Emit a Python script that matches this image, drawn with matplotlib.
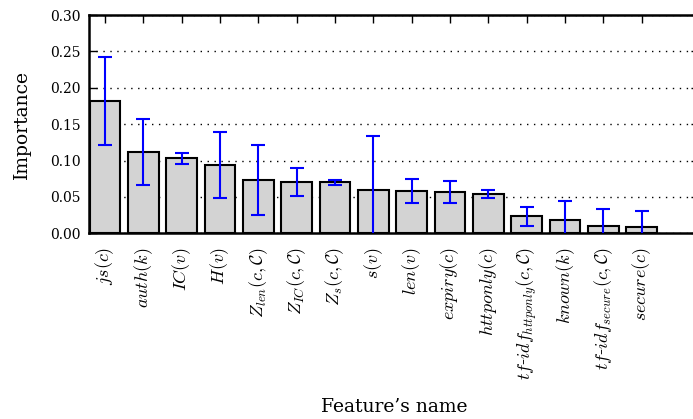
import matplotlib
matplotlib.use("Agg")
import matplotlib.pyplot as plt
import numpy as np

plt.rcParams["font.family"] = "serif"
plt.rcParams["font.serif"] = ["DejaVu Serif"]
plt.rcParams["mathtext.fontset"] = "cm"
plt.rcParams["axes.unicode_minus"] = False

features = [
    r"$js(c)$", r"$auth(k)$", r"$IC(v)$", r"$H(v)$",
    r"$Z_{len}(c,\mathcal{C})$", r"$Z_{IC}(c,\mathcal{C})$", r"$Z_{s}(c,\mathcal{C})$",
    r"$s(v)$", r"$len(v)$", r"$expiry(c)$", r"$httponly(c)$",
    r"$tf$-$idf_{httponly}(c,\mathcal{C})$", r"$known(k)$",
    r"$tf$-$idf_{secure}(c,\mathcal{C})$", r"$secure(c)$",
]
importance = [0.182, 0.112, 0.103, 0.094, 0.073, 0.0705, 0.070,
              0.0595, 0.058, 0.0568, 0.0545, 0.0238, 0.018, 0.0096, 0.0087]
std_dev = [0.060, 0.045, 0.008, 0.046, 0.048, 0.019, 0.0037,
           0.074, 0.0167, 0.0155, 0.0057, 0.013, 0.0265, 0.024, 0.0215]
yticks = [0.00, 0.05, 0.10, 0.15, 0.20, 0.25, 0.30]

fig = plt.figure(figsize=(6.93, 4.19), dpi=100)
# the plotting area runs slightly past the right edge of the canvas
ax = fig.add_axes([0.1284, 0.443, 0.8802, 0.521])

x = np.arange(len(features))
ax.bar(x, importance, width=0.8, color="lightgray", edgecolor="black",
       linewidth=1.5, zorder=2)
ax.errorbar(x, importance, yerr=std_dev, fmt="none", ecolor="blue",
            elinewidth=1.5, capsize=4.7, capthick=1.5, zorder=3)

ax.set_xlim(-0.42, 15.49)
ax.set_ylim(0, 0.30)
ax.set_yticks(yticks)
ax.set_yticklabels([f"{v:.2f}" for v in yticks])
ax.set_xticks(x)
ax.set_xticklabels(features, rotation=90, fontsize=13)
ax.tick_params(axis="both", direction="in", top=True, right=True,
               length=6, width=1, labelsize=10)
ax.tick_params(axis="x", labelsize=13, pad=10)
ax.tick_params(axis="y", pad=6)
ax.yaxis.grid(True, linestyle=(0, (1, 4)), color="black", linewidth=1, zorder=0)
ax.set_axisbelow(True)
for s in ax.spines.values():
    s.set_linewidth(1.8)

ax.set_ylabel("Importance", fontsize=13.5)
ax.yaxis.set_label_coords(-0.095, 0.5)
ax.set_xlabel("Feature\u2019s name", fontsize=13.5)
ax.xaxis.set_label_coords(0.5, -0.754)

fig.savefig("out.png", dpi=100)
